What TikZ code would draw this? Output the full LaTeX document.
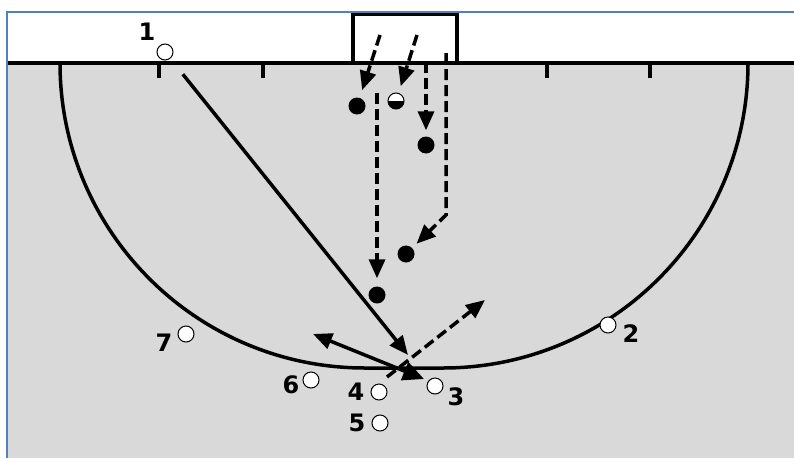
\documentclass[tikz,border=0pt]{standalone}
\usepackage{fontspec}
\setmainfont{DejaVu Sans}
\usepackage{tikz}
\usetikzlibrary{arrows.meta,positioning}

\definecolor{pitchgray}{RGB}{217,217,217}
\definecolor{frameblue}{RGB}{79,129,189}

\begin{document}
\begin{tikzpicture}[
    x=1pt, y=-1pt,
    font=\fontsize{24}{27}\selectfont\bfseries,
    % Node styles
    attacker/.style={draw, circle, fill=white, line width=1pt, minimum size=16pt, inner sep=0pt},
    defender/.style={circle, fill=black, minimum size=17pt, inner sep=0pt},
    keeper/.style={draw, circle, fill=white, line width=1pt, minimum size=16pt, inner sep=0pt,
        path picture={\fill[black] (path picture bounding box.west) rectangle (path picture bounding box.south east);}},
    num/.style={inner sep=0pt},
    % Line styles
    pitchline/.style={line width=3.5pt},
    pass/.style={-{Triangle[length=19pt,width=16pt]}, line width=3.5pt},
    push/.style={{Triangle[length=19pt,width=16pt]}-{Triangle[length=21pt,width=19pt]}, line width=3.5pt},
    run/.style={-{Triangle[length=19pt,width=16pt]}, line width=3.5pt, dash pattern=on 11pt off 5pt},
]

    % Pitch
    \useasboundingbox (0,0) rectangle (794,458);
    \fill[white] (0,0) rectangle (794,458);
    \fill[pitchgray] (8,63) rectangle (794,458);
    \draw[frameblue, line width=2pt] (7,458) -- (7,12) -- (794,12);
    \draw[pitchline] (8,63) -- (794,63);
    \foreach \x in {159,263,547,650}
        \draw[pitchline] (\x,63) -- (\x,78);
    \draw[pitchline] (60,63) arc[start angle=180, end angle=90, radius=305]
        -- (443,368) arc[start angle=90, end angle=0, radius=305];
    \draw[pitchline] (353,63) -- (353,14.5) -- (457,14.5) -- (457,63);

    % Attackers
    \node[attacker] (p1) at (165,52) {};
    \node[attacker] (p2) at (608,325) {};
    \node[attacker] (p3) at (435,386) {};
    \node[attacker] (p4) at (379,392) {};
    \node[attacker] (p5) at (380,423) {};
    \node[attacker] (p6) at (311,380) {};
    \node[attacker] (p7) at (186,334) {};

    % Numbers
    \node[num] (n1) at (147,32) {1};
    \node[num] (n2) at (631,334) {2};
    \node[num] (n3) at (456,397) {3};
    \node[num, left=6pt of p4] (n4) {4};
    \node[num, left=6pt of p5] (n5) {5};
    \node[num] (n6) at (291,385) {6};
    \node[num] (n7) at (164,343) {7};

    % Defenders
    \node[defender] (d1) at (357,106) {};
    \node[keeper] (gk) at (396,101) {};
    \node[defender] (d2) at (426,145) {};
    \node[defender] (d3) at (406,254) {};
    \node[defender] (d4) at (377,295) {};

    % Start and end points
    \coordinate (d1s) at (380,35);
    \coordinate (gks) at (417,35);
    \coordinate (d2s) at (426,62);
    \coordinate (d3s) at (446,53);
    \coordinate (d3c) at (446,215);
    \coordinate (d4s) at (377,93);
    \coordinate (stop) at (408,355);
    \coordinate (pushl) at (313,334);
    \coordinate (pushr) at (424,379);
    \coordinate (shots) at (387,377);
    \coordinate (shote) at (485,300);

    % Runs
    \draw[run, shorten >=8pt] (d1s) -- (d1);
    \draw[run, shorten >=7pt] (gks) -- (gk);
    \draw[run, shorten >=6pt] (d2s) -- (d2);
    \draw[run, shorten >=6pt] (d3s) -- (d3c) -- (d3);
    \draw[run, shorten >=8pt] (d4s) -- (d4);

    % Passes
    \draw[pass, shorten <=20pt] (p1) -- (stop);
    \draw[push] (pushl) -- (pushr);
    \draw[run] (shots) -- (shote);

\end{tikzpicture}
\end{document}
